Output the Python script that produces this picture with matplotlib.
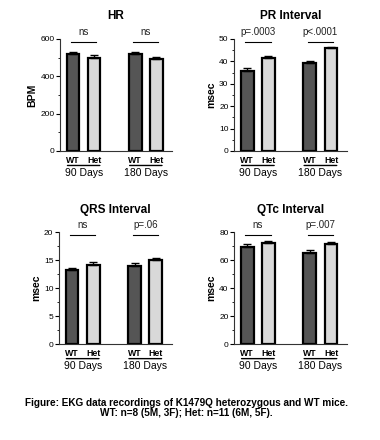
import matplotlib.pyplot as plt
from matplotlib.ticker import MultipleLocator

plt.rcParams['font.family'] = ['Liberation Sans', 'DejaVu Sans']

groups = ['90 Days', '180 Days']
genotypes = ['WT', 'Het']
panels = ['HR', 'PR Interval', 'QRS Interval', 'QTc Interval']
ylabels = ['BPM', 'msec', 'msec', 'msec']

hr_mean = [517, 500, 517, 490]
hr_err = [12, 14, 12, 14]
pr_mean = [35.8, 41.5, 39.2, 45.8]
pr_err = [1.1, 0.9, 0.9, 0.6]
qrs_mean = [13.3, 14.2, 14.0, 15.0]
qrs_err = [0.35, 0.4, 0.4, 0.45]
qtc_mean = [69.7, 72.1, 65.4, 71.6]
qtc_err = [1.8, 1.3, 1.6, 1.6]

ymax = [600, 50, 20, 80]
major = [200, 10, 5, 20]
pvals = [['ns', 'ns'], ['p=.0003', 'p<.0001'], ['ns', 'p=.06'], ['ns', 'p=.007']]

means = [hr_mean, pr_mean, qrs_mean, qtc_mean]
errs = [hr_err, pr_err, qrs_err, qtc_err]

xpos = [0, 1, 2.95, 3.95]
colors = ['#555555', '#d9d9d9']

fig = plt.figure(figsize=(3.8, 4.4), dpi=100)
rects = [[0.158, 0.657, 0.295, 0.2545], [0.616, 0.657, 0.297, 0.2545],
         [0.155, 0.218, 0.297, 0.2545], [0.616, 0.218, 0.297, 0.2545]]

for i in range(4):
    ax = fig.add_axes(rects[i])
    for j in range(4):
        ax.bar(xpos[j], means[i][j], width=0.6, color=colors[j % 2],
               edgecolor='black', linewidth=1.6, zorder=2)
        ax.errorbar(xpos[j], means[i][j], yerr=[[0], [errs[i][j]]], color='black',
                    capsize=3, elinewidth=1, capthick=1, zorder=3)
    ax.set_xlim(-0.62, 4.7)
    ax.set_ylim(0, ymax[i])
    ax.yaxis.set_major_locator(MultipleLocator(major[i]))
    ax.yaxis.set_minor_locator(MultipleLocator(major[i] / 2))
    ax.spines['top'].set_visible(False)
    ax.spines['right'].set_visible(False)
    ax.spines['left'].set_color('#333333')
    ax.spines['bottom'].set_color('#333333')
    ax.tick_params(axis='y', labelsize=6, length=3, width=0.8, pad=1)
    ax.tick_params(axis='y', which='minor', length=1.8, width=0.6)
    ax.set_xticks(xpos)
    ax.set_xticklabels(genotypes * 2, fontsize=6.3, fontweight='bold')
    ax.tick_params(axis='x', length=0, pad=3.5)
    ax.set_ylabel(ylabels[i], fontsize=7.5, fontweight='bold', labelpad=2)
    ax.set_title(panels[i], fontsize=8.5, fontweight='bold', pad=14)
    # group underline and label
    for g in range(2):
        x0 = xpos[2 * g] - 0.4
        x1 = xpos[2 * g + 1] + 0.4
        ax.annotate('', xy=(x0, -0.13), xytext=(x1, -0.13),
                    xycoords=('data', 'axes fraction'), textcoords=('data', 'axes fraction'),
                    arrowprops=dict(arrowstyle='-', color='black', lw=1))
        ax.text((x0 + x1) / 2, -0.15, groups[g], transform=ax.get_xaxis_transform(),
                ha='center', va='top', fontsize=7.5)
        # significance line
        ax.plot([xpos[2 * g] - 0.1, xpos[2 * g + 1] + 0.1], [0.97, 0.97],
                transform=ax.get_xaxis_transform(), color='black', lw=0.8, clip_on=False)
        ax.text((xpos[2 * g] + xpos[2 * g + 1]) / 2, 1.02, pvals[i][g],
                transform=ax.get_xaxis_transform(), ha='center', va='bottom', fontsize=7,
                color='#222222')

fig.text(0.49, 0.073, 'Figure: EKG data recordings of K1479Q heterozygous and WT mice.\n'
         'WT: n=8 (5M, 3F); Het: n=11 (6M, 5F).',
         ha='center', va='center', fontsize=7.2, fontweight='bold', linespacing=1.0)

fig.savefig('out.png', dpi=100)
